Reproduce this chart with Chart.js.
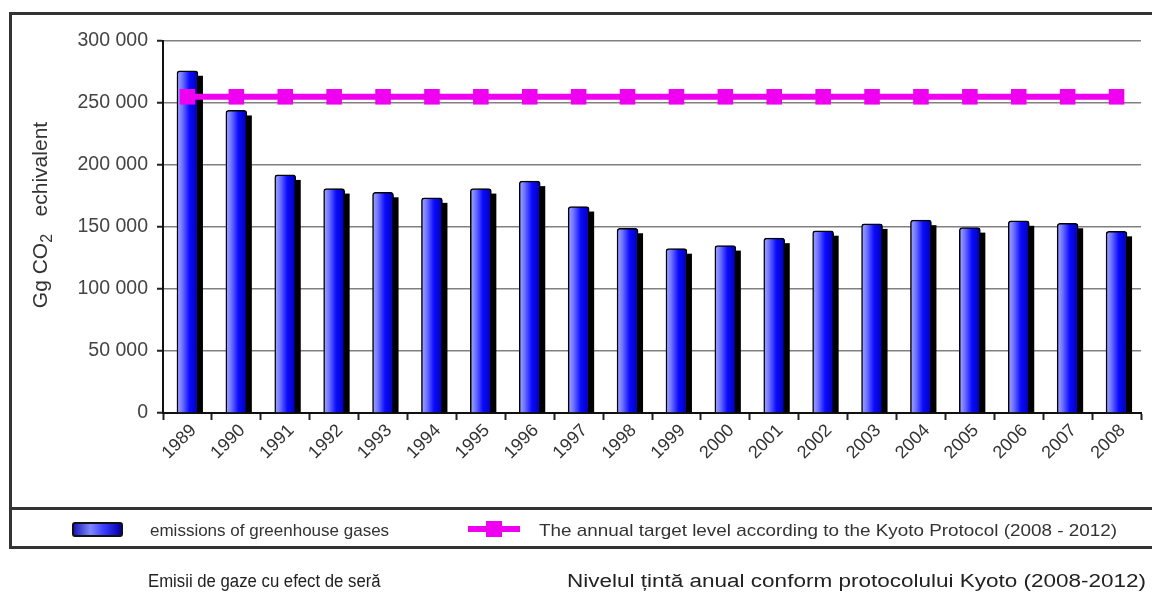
<!DOCTYPE html>
<html>
<head>
<meta charset="utf-8">
<script src="https://cdn.jsdelivr.net/npm/chart.js@4"></script>
<style>
  html, body { margin: 0; padding: 0; background: #fff; }
  body { width: 1152px; height: 596px; position: relative; overflow: hidden; font-family: Arial, "Liberation Sans", sans-serif; }
  #c { position: absolute; left: 0; top: 0; }
  .frame { position: absolute; left: 9px; top: 12px; width: 1200px; height: 537px; border: 3px solid #333; box-sizing: border-box; }
  .sep { position: absolute; left: 9px; top: 507px; width: 1200px; height: 0; border-top: 3px solid #333; }
  .lg { position: absolute; color: #333; font-size: 17px; white-space: nowrap; transform-origin: 0 50%; }
  .swatch-bar { position: absolute; left: 72px; top: 522px; width: 51px; height: 15px; box-sizing: border-box; border: 2px solid #111; border-radius: 3px;
    background: linear-gradient(to right, #1a1ab8 0%, #7f86ff 35%, #3a3aff 65%, #0000a8 100%); }
  .swatch-line { position: absolute; left: 468px; top: 526px; width: 52px; height: 6px; background: #f000f0; }
  .swatch-pt { position: absolute; left: 486px; top: 521px; width: 16px; height: 16px; background: #f000f0; }
  .cap { position: absolute; color: #222; font-size: 18px; white-space: nowrap; transform-origin: 0 50%; }
</style>
</head>
<body>
<canvas id="c" width="1152" height="596"></canvas>
<div class="frame"></div>
<div class="sep"></div>
<div class="swatch-bar"></div>
<div class="lg" style="left:150px; top:521px;">emissions of greenhouse gases</div>
<div class="swatch-line"></div>
<div class="swatch-pt"></div>
<div class="lg" style="left:539px; top:521px; transform: scaleX(1.11);">The annual target level according to the Kyoto Protocol (2008 - 2012)</div>
<div class="cap" style="left:148px; top:571px; transform: scaleX(0.93);">Emisii de gaze cu efect de seră</div>
<div class="cap" style="left:567px; top:571px; transform: scaleX(1.25);">Nivelul țintă anual conform protocolului Kyoto (2008-2012)</div>
<script>
// Years on the category axis
const years = ['1989','1990','1991','1992','1993','1994','1995','1996','1997','1998',
               '1999','2000','2001','2002','2003','2004','2005','2006','2007','2008'];
// Greenhouse gas emissions, Gg CO2 equivalent
const emissions = [276000, 244000, 192000, 181000, 178000, 173500, 181000, 187000, 166500, 149000,
                   132500, 135000, 141000, 147000, 152500, 155500, 149500, 155000, 153000, 146500];
// Annual Kyoto target level
const kyotoTarget = [255000, 255000, 255000, 255000, 255000, 255000, 255000, 255000, 255000, 255000,
                     255000, 255000, 255000, 255000, 255000, 255000, 255000, 255000, 255000, 255000];
// Value axis ticks
const yTicks = [0, 50000, 100000, 150000, 200000, 250000, 300000];

const BAR_W = 21;
const FONT = 'Arial, "Liberation Sans", sans-serif';
const fmt = v => String(v).replace(/\B(?=(\d{3})+(?!\d))/g, ' ');

// Horizontal sheen on each bar
function barGradient(ctx) {
  const chart = ctx.chart;
  const xs = chart.scales.x;
  if (!xs || !chart.chartArea) return '#2020ff';
  const cx = xs.getPixelForValue(ctx.dataIndex);
  const g = chart.ctx.createLinearGradient(cx - BAR_W / 2, 0, cx + BAR_W / 2, 0);
  g.addColorStop(0, '#a4a8ff');
  g.addColorStop(0.25, '#6f74ff');
  g.addColorStop(0.6, '#0a0aff');
  g.addColorStop(1, '#0000b0');
  return g;
}

// Black drop shadow to the right of every bar
const barShadow = {
  id: 'barShadow',
  beforeDatasetDraw(chart, args) {
    if (args.meta.type !== 'bar') return;
    const c = chart.ctx;
    c.save();
    c.fillStyle = '#000';
    args.meta.data.forEach(el => {
      const p = el.getProps(['x', 'y', 'base', 'width'], true);
      c.fillRect(p.x + p.width / 2 - 1, p.y + 5, 6, p.base - p.y - 5);
    });
    c.restore();
  }
};

// Vertical axis title with subscript
const yTitle = {
  id: 'yTitle',
  afterDraw(chart) {
    const c = chart.ctx;
    c.save();
    c.translate(47, 215);
    c.rotate(-Math.PI / 2);
    c.fillStyle = '#333';
    c.textBaseline = 'alphabetic';
    const big = '21px ' + FONT;
    const small = '16px ' + FONT;
    const p1 = 'Gg CO', p2 = '2', p3 = '   echivalent';
    c.font = big; const w1 = c.measureText(p1).width; const w3 = c.measureText(p3).width;
    c.font = small; const w2 = c.measureText(p2).width;
    let x = -(w1 + w2 + w3) / 2;
    c.font = big; c.fillText(p1, x, 0); x += w1;
    c.font = small; c.fillText(p2, x, 5); x += w2;
    c.font = big; c.fillText(p3, x, 0);
    c.restore();
  }
};

new Chart(document.getElementById('c'), {
  data: {
    labels: years,
    datasets: [
      {
        type: 'line',
        label: 'The annual target level according to the Kyoto Protocol (2008 - 2012)',
        data: kyotoTarget,
        borderColor: '#f000f0',
        backgroundColor: '#f000f0',
        borderWidth: 6,
        pointStyle: 'rect',
        pointRadius: 11,
        pointBorderWidth: 0,
        pointBackgroundColor: '#f000f0',
        order: 0
      },
      {
        type: 'bar',
        label: 'emissions of greenhouse gases',
        data: emissions,
        backgroundColor: barGradient,
        borderColor: '#000',
        borderWidth: 1.5,
        borderRadius: { topLeft: 3, topRight: 3, bottomLeft: 0, bottomRight: 0 },
        borderSkipped: 'bottom',
        barThickness: BAR_W,
        order: 1
      }
    ]
  },
  options: {
    responsive: false,
    animation: false,
    devicePixelRatio: 1,
    events: [],
    layout: { padding: { left: 10, right: 9, top: 41, bottom: 0 } },
    plugins: { legend: { display: false }, tooltip: { enabled: false } },
    scales: {
      x: {
        offset: true,
        grid: { display: true, drawOnChartArea: false, offset: true, tickLength: 7, tickColor: '#222', tickWidth: 2 },
        border: { color: '#111', width: 2 },
        ticks: { color: '#333', font: { family: FONT, size: 18 }, minRotation: 45, maxRotation: 45, padding: 0, labelOffset: 6, autoSkip: false },
        afterFit(s) { s.height = 183; }
      },
      y: {
        min: 0, max: 300000,
        afterBuildTicks(s) { s.ticks = yTicks.map(v => ({ value: v })); },
        grid: { color: '#808080', lineWidth: 1.5, tickLength: 6, tickColor: '#222', tickWidth: 2 },
        border: { color: '#111', width: 2 },
        ticks: { color: '#444', font: { family: FONT, size: 19.5 }, padding: 9, callback: v => fmt(v) },
        afterFit(s) { s.width = 153; }
      }
    }
  },
  plugins: [barShadow, yTitle]
});
</script>
</body>
</html>
